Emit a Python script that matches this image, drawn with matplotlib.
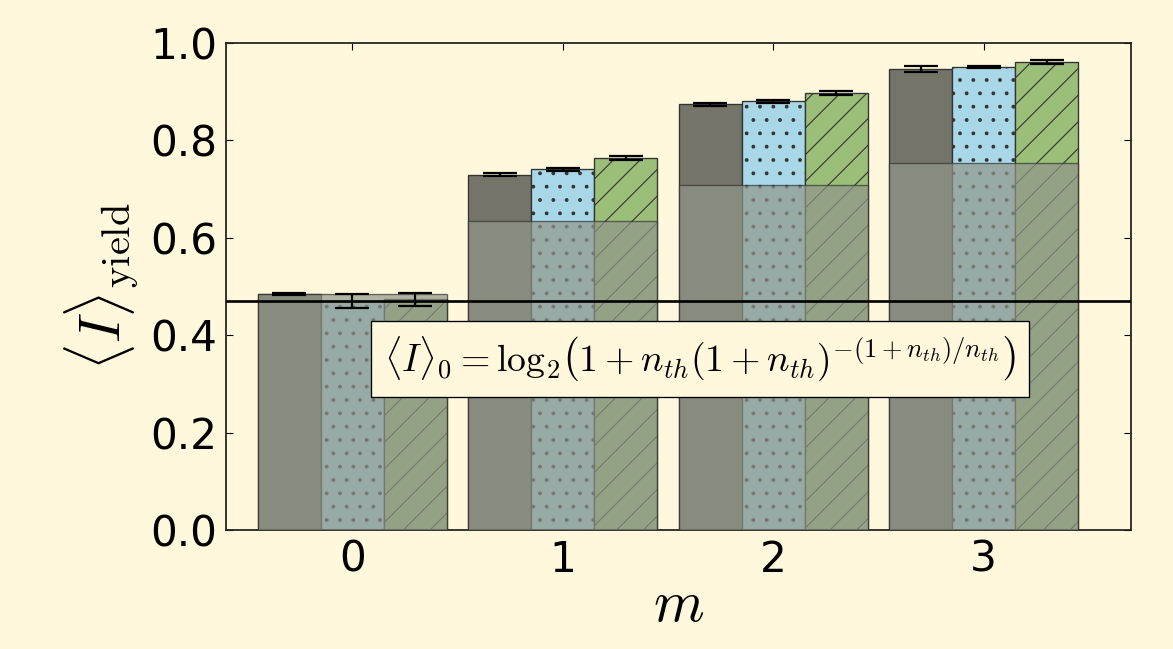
import numpy as np
import matplotlib
matplotlib.use("Agg")
import matplotlib.pyplot as plt

plt.rcParams['mathtext.fontset'] = 'cm'
plt.rcParams['hatch.linewidth'] = 1.0

# mean information yield per m, three protocols
m_values = [0, 1, 2, 3]
yield_grey = [0.484, 0.730, 0.874, 0.9465]
yield_blue = [0.470, 0.741, 0.880, 0.950]
yield_green = [0.4735, 0.7645, 0.898, 0.9605]
err_grey = [0.002, 0.003, 0.003, 0.0065]
err_blue = [0.015, 0.003, 0.003, 0.002]
err_green = [0.0135, 0.004, 0.004, 0.0037]
# baseline reached without feedback, per m
yield_base = [0.484, 0.635, 0.709, 0.754]
# <I>_0 reference level
i0 = 0.471

bg = '#fff8dc'
width = 0.3
x = np.array(m_values, dtype=float)

fig = plt.figure(figsize=(1173 / 80, 649 / 80), dpi=80, facecolor=bg)
ax = fig.add_axes([0.1927, 0.1834, 0.9642 - 0.1927, 0.9337 - 0.1834])
ax.set_facecolor(bg)

edge = '#333333'
ax.bar(x - width, yield_grey, width, color='#747468', edgecolor=edge, linewidth=1.2, zorder=2)
ax.bar(x, yield_blue, width, color='#a8d8e8', edgecolor=edge, linewidth=1.2,
       hatch='.', zorder=2)
ax.bar(x + width, yield_green, width, color='#9bbf78', edgecolor=edge, linewidth=1.2,
       hatch='/', zorder=2)

# translucent block showing the baseline part of each group
ax.bar(x, yield_base, 3 * width, color='#91978a', alpha=0.7, edgecolor=edge,
       linewidth=1.2, zorder=3)

for dx, vals, errs in [(-width, yield_grey, err_grey), (0, yield_blue, err_blue),
                       (width, yield_green, err_green)]:
    ax.errorbar(x + dx, vals, yerr=errs, fmt='none', ecolor='black',
                elinewidth=2, capsize=15, capthick=2, zorder=4)

ax.axhline(i0, color='black', linewidth=2.4, zorder=5)

ax.text(1.651, 0.351,
        r'$\langle I\rangle_0 = \log_2\!\left(1+n_{th}(1+n_{th})^{-(1+n_{th})/n_{th}}\right)$',
        fontsize=34, ha='center', va='center', zorder=6,
        bbox=dict(boxstyle='square,pad=0.35', facecolor=bg, edgecolor='black', linewidth=1.2))

ax.set_xlim(-0.6, 3.7)
ax.set_ylim(0, 1.0)
ax.set_xticks(m_values)
ax.set_yticks([0.0, 0.2, 0.4, 0.6, 0.8, 1.0])
ax.tick_params(direction='in', length=6, width=1, labelsize=38, top=True, right=True, pad=8)
for s in ax.spines.values():
    s.set_linewidth(1.6)
    s.set_color('#222222')

ax.set_xlabel(r'$m$', fontsize=52, labelpad=-4)
ax.set_ylabel(r'$\langle I\rangle_{\rm yield}$', fontsize=52, labelpad=8)

fig.savefig('out.png', dpi=80, facecolor=bg)
